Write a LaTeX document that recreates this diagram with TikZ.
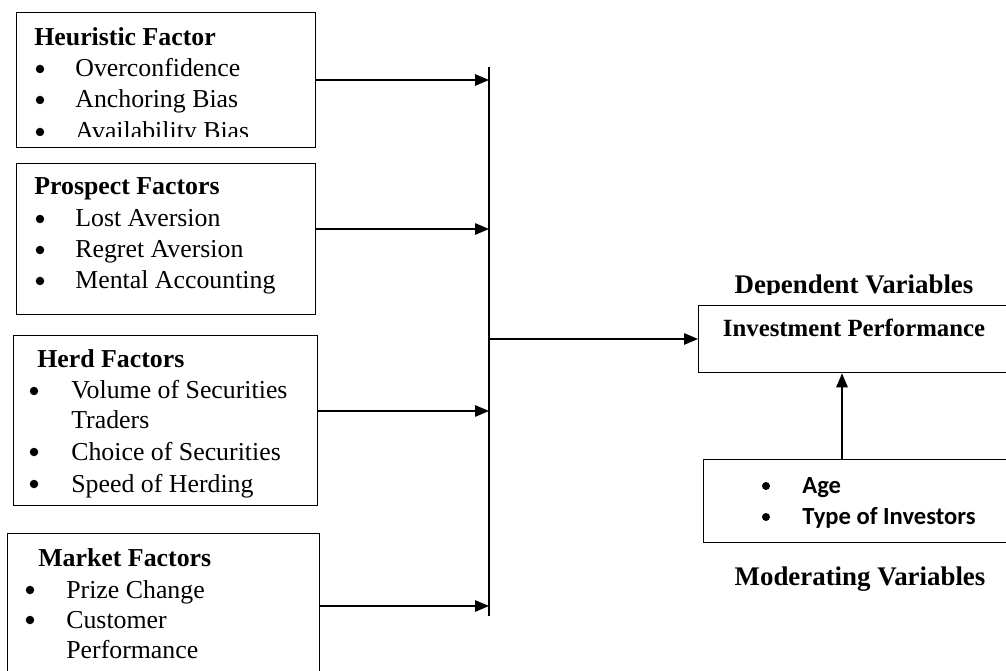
\documentclass[tikz,border=0pt]{standalone}
\usepackage{fontspec}
\setmainfont{Liberation Serif}
\newfontfamily\calibri{Carlito}
\usetikzlibrary{arrows.meta,positioning}

\begin{document}
\begin{tikzpicture}[x=0.02cm,y=-0.02cm,
	factor/.style={draw,line width=0.8pt,inner sep=0pt,anchor=north west},
	txt/.style={anchor=base west,inner sep=0pt,font=\fontsize{14.7}{17}\selectfont},
	head/.style={txt,font=\fontsize{14.7}{17}\selectfont\bfseries},
	dot/.style={circle,fill,inner sep=0pt,minimum size=0.17cm,yshift=0.16cm},
	title/.style={anchor=base,inner sep=0pt,font=\fontsize{15.3}{18}\selectfont\bfseries},
	arr/.style={line width=0.8pt,-{Triangle[length=0.28cm,width=0.23cm]}}]
	\useasboundingbox (0,0) rectangle (1006,671);
	% factor boxes
	\node[factor,minimum width=5.98cm,minimum height=2.7cm] (heur) at (16,12) {};
	\node[factor,minimum width=5.98cm,minimum height=3.02cm] (pros) at (16,163) {};
	\node[factor,minimum width=6.08cm,minimum height=3.4cm] (herd) at (13,335) {};
	\node[factor,minimum width=6.24cm,minimum height=3.34cm] (mark) at (7,533) {};
	\node[factor,minimum width=6.64cm,minimum height=1.34cm] (inv) at (698,305) {};
	\node[factor,minimum width=6.54cm,minimum height=1.66cm] (mod) at (703,459) {};
	% texts
	\node[head] (hh) at (34,46) {Heuristic Factor};
	\begin{scope}
		\clip (0,0) rectangle (330,137);
		\foreach \y/\t in {77/Overconfidence,108/Anchoring Bias,140/Availability Bias}{
			\node[dot] (hb\y) at (40,\y) {};
			\node[txt] (ht\y) at (75,\y) {\t};
		}
	\end{scope}
	\node[head] (ph) at (34,195) {Prospect Factors};
	\foreach \y/\t in {227/Lost Aversion,258/Regret Aversion,289/Mental Accounting}{
		\node[dot] (pb\y) at (40,\y) {};
		\node[txt] (pt\y) at (75,\y) {\t};
	}
	\node[head] (dh) at (37,368) {Herd Factors};
	\foreach \y/\t in {399/Volume of Securities,460/Choice of Securities,492/Speed of Herding}{
		\node[dot] (db\y) at (34,\y) {};
		\node[txt] (dt\y) at (71,\y) {\t};
	}
	\node[txt] (dt429) at (71,429) {Traders};
	\node[head] (mh) at (38,566) {Market Factors};
	\foreach \y/\t in {598/Prize Change,628/Customer}{
		\node[dot] (mb\y) at (30,\y) {};
		\node[txt] (mt\y) at (66,\y) {\t};
	}
	\node[txt] (mt658) at (66,658) {Performance};
	\begin{scope}
		\clip (700,250) rectangle (1006,295);
		\node[title] (dep) at (854,294) {Dependent Variables};
	\end{scope}
	\node[title,font=\fontsize{14.1}{17}\selectfont\bfseries] (invt) at (854,337) {Investment Performance};
	\foreach \y/\t in {493/Age,524/Type of Investors}{
		\node[dot,minimum size=0.16cm,yshift=-0.02cm] (ab\y) at (766,\y) {};
		\node[txt,font=\fontsize{14}{17}\calibri\bfseries] (at\y) at (802,\y) {\t};
	}
	\node[title] (modt) at (860,585) {Moderating Variables};
	% connectors
	\coordinate (bustop) at (489,67);
	\coordinate (busbot) at (489,616);
	\coordinate (b1) at (489,80);
	\coordinate (b2) at (489,229);
	\coordinate (b3) at (489,411);
	\coordinate (b4) at (489,606);
	\coordinate (bi) at (489,339);
	\coordinate (mi) at (842,459);
	\draw[line width=0.8pt] (bustop) -- (busbot);
	\draw[arr] (heur.east |- b1) -- (b1);
	\draw[arr] (pros.east |- b2) -- (b2);
	\draw[arr] (herd.east |- b3) -- (b3);
	\draw[arr] (mark.east |- b4) -- (b4);
	\draw[arr] (bi) -- (inv.west |- bi);
	\draw[arr] (mi) -- (mi |- inv.south);
\end{tikzpicture}
\end{document}
